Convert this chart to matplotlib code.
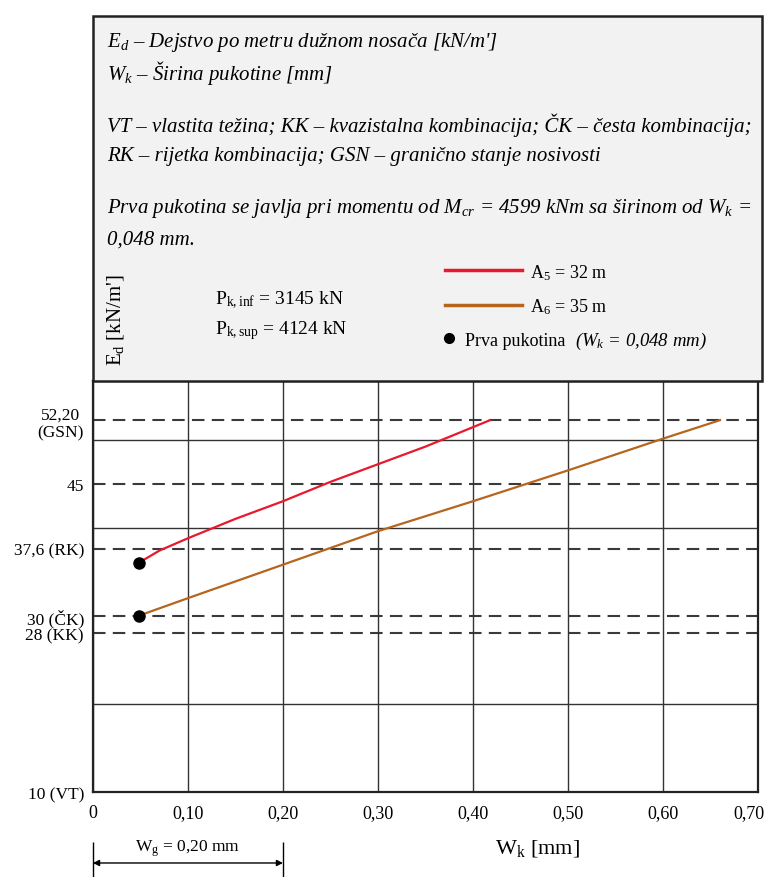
import matplotlib
matplotlib.use("Agg")
import matplotlib.pyplot as plt
from matplotlib.lines import Line2D
from matplotlib.patches import Rectangle
from matplotlib.transforms import blended_transform_factory, ScaledTranslation

plt.rcParams["font.family"] = ["Liberation Serif", "DejaVu Serif"]
plt.rcParams["mathtext.fontset"] = "custom"
plt.rcParams["mathtext.rm"] = "Liberation Serif"
plt.rcParams["mathtext.it"] = "Liberation Serif:italic"
plt.rcParams["mathtext.bf"] = "Liberation Serif:bold"

# --- podaci (očitano sa dijagrama) ---
wk_a5 = [0.048, 0.07, 0.10, 0.15, 0.20, 0.25, 0.30, 0.35, 0.418]
ed_a5 = [36.0, 37.4, 38.8, 41.0, 43.0, 45.2, 47.2, 49.2, 52.2]
wk_a6 = [0.048, 0.10, 0.20, 0.30, 0.40, 0.50, 0.60, 0.66]
ed_a6 = [30.0, 32.0, 35.8, 39.6, 43.0, 46.5, 50.1, 52.2]
crack_wk = [0.048, 0.048]
crack_ed = [36.0, 30.0]

level_vals = [10, 28, 30, 37.6, 45, 52.2]
level_labels = ["10 (VT)", "28 (KK)", "30 (ČK)", "37,6 (RK)", "45", "52,20\n(GSN)"]
grid_y = [20, 30, 40, 50]
x_ticks = [0, 0.1, 0.2, 0.3, 0.4, 0.5, 0.6, 0.7]
x_labels = ["0", "0,10", "0,20", "0,30", "0,40", "0,50", "0,60", "0,70"]
wg = 0.20

W, H = 769, 878


def fx(px):
    return px / W


def fy(py):
    return 1 - py / H


fig = plt.figure(figsize=(W / 100, H / 100), dpi=100)

# okvir s legendom / opisom
fig.patches.append(Rectangle((fx(93), fy(382)), (762 - 93) / W, (382 - 17) / H,
                             transform=fig.transFigure, fc="#f2f2f2", ec="#222222",
                             lw=1.8, zorder=0))

ax = fig.add_axes([fx(93), fy(793), (758 - 93) / W, (793 - 381.5) / H])
ax.set_xlim(0, 0.7)
ax.set_ylim(10, 56.7)

ax.set_xticks(x_ticks)
ax.set_xticklabels(x_labels, fontsize=13)
ax.set_yticks(level_vals)
ax.set_yticklabels(level_labels, fontsize=12.5, multialignment="center")
ax.set_yticks(grid_y, minor=True)
ax.tick_params(which="both", length=0)
ax.tick_params(axis="x", pad=9)
ax.tick_params(axis="y", pad=6.5)
# zadnju oznaku malo ulijevo da ne izađe iz slike
last = ax.get_xticklabels()[-1]
last.set_transform(last.get_transform() + ScaledTranslation(-0.09, 0, fig.dpi_scale_trans))
ax.grid(axis="x", color="#333333", lw=1.0)
ax.grid(axis="y", which="minor", color="#333333", lw=1.0)
for v in level_vals[1:]:
    ax.axhline(v, color="#3a3a3a", lw=1.5, ls=(0, (6, 3.5)), zorder=1.5)
for s in ax.spines.values():
    s.set_linewidth(1.6)
    s.set_color("#222222")

l5, = ax.plot(wk_a5, ed_a5, color="#e8192c", lw=1.6, zorder=3)
l6, = ax.plot(wk_a6, ed_a6, color="#b5651d", lw=1.6, zorder=3)
ax.plot(crack_wk, crack_ed, "o", color="black", ms=8, zorder=5)

ax.set_xlabel(r"$\mathrm{W_k}$ [mm]", fontsize=16, va="center")
ax.xaxis.set_label_coords(0.668, -0.136)

# kota W_g
trans = blended_transform_factory(ax.transData, ax.transAxes)
ax.vlines([0, wg], -0.1215, -0.215, transform=trans, color="black", lw=1.0, clip_on=False)
ax.annotate("", xy=(0, -0.1725), xytext=(wg, -0.1725), xycoords=trans, textcoords=trans,
            arrowprops=dict(arrowstyle="<|-|>", color="black", lw=1.0,
                            mutation_scale=9, shrinkA=0, shrinkB=0),
            annotation_clip=False)
ax.text(wg / 2, -0.136, r"$\mathrm{W_g}$ = 0,20 mm", transform=trans,
        ha="center", va="center", fontsize=12.5)

# tekst u okviru
box_lines = [
    (42, r"$E_d$ – Dejstvo po metru dužnom nosača [kN/m']"),
    (73, r"$W_k$ – Širina pukotine [mm]"),
    (125, "VT – vlastita težina; KK – kvazistalna kombinacija; ČK – česta kombinacija;"),
    (157, "RK – rijetka kombinacija; GSN – granično stanje nosivosti"),
    (209, r"Prva pukotina se javlja pri momentu od $M_{cr}$ = 4599 kNm sa širinom od $W_k$ ="),
    (240, "0,048 mm."),
]
for py, txt in box_lines:
    fig.text(fx(107), fy(py), txt, style="italic", fontsize=15, va="center")

fig.text(fx(115), fy(320), r"$\mathrm{E_d}$ [kN/m']", rotation=90,
         ha="center", va="center", fontsize=15)
fig.text(fx(215), fy(300), r"$\mathrm{P_{k,inf}}$ = 3145 kN", fontsize=14, va="center")
fig.text(fx(215), fy(331), r"$\mathrm{P_{k,sup}}$ = 4124 kN", fontsize=14, va="center")

h5 = Line2D([], [], color=l5.get_color(), lw=2.5)
h6 = Line2D([], [], color=l6.get_color(), lw=2.5)
fig.legend([h5, h6], [r"$\mathrm{A_5}$ = 32 m", r"$\mathrm{A_6}$ = 35 m"],
           loc="center left", bbox_to_anchor=(fx(445), fy(290)), frameon=False,
           fontsize=13, handlelength=4.26, handletextpad=0.44, borderpad=0,
           borderaxespad=0, labelspacing=0.83)
hd = Line2D([], [], marker="o", ls="none", color="black", ms=7)
leg_dot = fig.legend([hd], ["Prva pukotina"],
                     loc="center left", bbox_to_anchor=(fx(441), fy(341)), frameon=False,
                     fontsize=13, handlelength=0.89, handletextpad=0.44, borderpad=0,
                     borderaxespad=0)

# kurzivni nastavak iza "Prva pukotina"
fig.canvas.draw()
bb = leg_dot.get_texts()[0].get_window_extent()
fig.text((bb.x1 + 10) / W, (bb.y0 + bb.y1) / 2 / H, r"($W_k$ = 0,048 mm)",
         style="italic", fontsize=13.5, va="center")

fig.savefig("out.png", dpi=100)
